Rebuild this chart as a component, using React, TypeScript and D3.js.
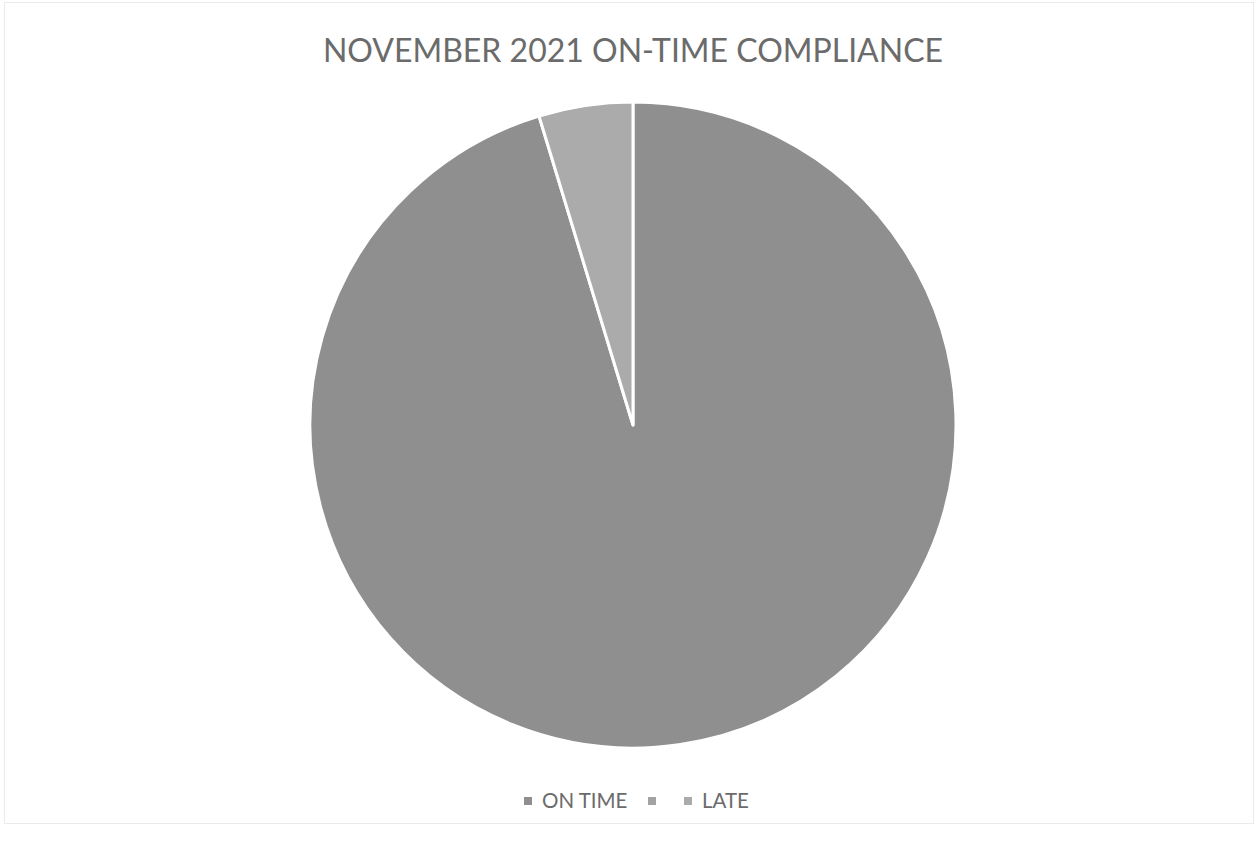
import * as d3 from "d3";
import { useEffect, useRef } from "react";

const categories = ["ON TIME", "", "LATE"];
const values = [95.3, 0, 4.7];
const colors = ["#8f8f8f", "#a3a3a3", "#ababab"];
const title = "NOVEMBER 2021 ON-TIME COMPLIANCE";

export default function App() {
  const ref = useRef<SVGSVGElement | null>(null);

  useEffect(() => {
    const svg = d3.select(ref.current);
    svg.selectAll("*").remove();

    const width = 1258;
    const height = 841;
    const cx = 633;
    const cy = 425;
    const radius = 323;

    svg.attr("width", width).attr("height", height);

    // faint chart border
    svg
      .append("rect")
      .attr("x", 4.5)
      .attr("y", 2.5)
      .attr("width", width - 9)
      .attr("height", height - 20)
      .attr("fill", "white")
      .attr("stroke", "#ebebeb")
      .attr("stroke-width", 1);

    svg
      .append("text")
      .attr("x", cx)
      .attr("y", 62)
      .attr("text-anchor", "middle")
      .style("font-family", "Lato, 'Open Sans', sans-serif")
      .style("font-size", "32px")
      .style("fill", "#6b6b6b")
      .text(title);

    const data = categories.map((c, i) => ({ label: c, value: values[i], color: colors[i] }));

    const pie = d3
      .pie<{ label: string; value: number; color: string }>()
      .value((d) => d.value)
      .sort(null);

    const arc = d3
      .arc<d3.PieArcDatum<{ label: string; value: number; color: string }>>()
      .innerRadius(0)
      .outerRadius(radius);

    const g = svg.append("g").attr("transform", `translate(${cx},${cy})`);

    g.selectAll("path")
      .data(pie(data).filter((d) => d.data.value > 0))
      .join("path")
      .attr("d", arc)
      .attr("fill", (d) => d.data.color)
      .attr("stroke", "white")
      .attr("stroke-width", 3)
      .attr("stroke-linejoin", "round");

    // legend
    const legendY = 801;
    const font = "Lato, 'Open Sans', sans-serif";
    const legendItems = [
      { x: 528, color: colors[0], label: categories[0] },
      { x: 652, color: colors[1], label: categories[1] },
      { x: 688, color: colors[2], label: categories[2] },
    ];
    legendItems.forEach((it) => {
      svg
        .append("rect")
        .attr("x", it.x - 4)
        .attr("y", legendY - 4)
        .attr("width", 8)
        .attr("height", 8)
        .attr("fill", it.color);
      if (it.label) {
        svg
          .append("text")
          .attr("x", it.x + 14)
          .attr("y", legendY + 7)
          .style("font-family", font)
          .style("font-size", "20.5px")
          .style("fill", "#6b6b6b")
          .text(it.label);
      }
    });
  }, []);

  return (
    <svg
      ref={ref}
      style={{ position: "absolute", left: 0, top: 0, display: "block" }}
    ></svg>
  );
}
